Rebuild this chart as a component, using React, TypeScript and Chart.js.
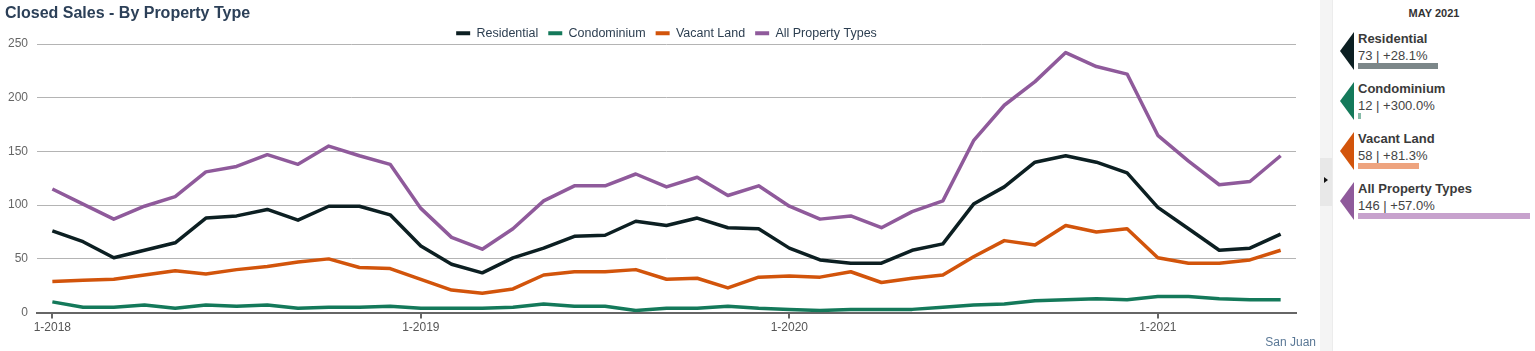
import React, { useEffect, useRef } from "react";
import { Chart, registerables } from "chart.js";

Chart.register(...registerables);

const months: string[] = [
  "1-2018", "2-2018", "3-2018", "4-2018", "5-2018", "6-2018", "7-2018", "8-2018", "9-2018", "10-2018", "11-2018", "12-2018",
  "1-2019", "2-2019", "3-2019", "4-2019", "5-2019", "6-2019", "7-2019", "8-2019", "9-2019", "10-2019", "11-2019", "12-2019",
  "1-2020", "2-2020", "3-2020", "4-2020", "5-2020", "6-2020", "7-2020", "8-2020", "9-2020", "10-2020", "11-2020", "12-2020",
  "1-2021", "2-2021", "3-2021", "4-2021", "5-2021",
];

const residential: number[] = [
  76, 66, 51, 58, 65, 88, 90, 96, 86, 99, 99, 91,
  62, 45, 37, 51, 60, 71, 72, 85, 81, 88, 79, 78,
  60, 49, 46, 46, 58, 64, 101, 117, 140, 146, 140, 130,
  98, 78, 58, 60, 73,
];
const condominium: number[] = [
  10, 5, 5, 7, 4, 7, 6, 7, 4, 5, 5, 6,
  4, 4, 4, 5, 8, 6, 6, 2, 4, 4, 6, 4,
  3, 2, 3, 3, 3, 5, 7, 8, 11, 12, 13, 12,
  15, 15, 13, 12, 12,
];
const vacantLand: number[] = [
  29, 30, 31, 35, 39, 36, 40, 43, 47, 50, 42, 41,
  31, 21, 18, 22, 35, 38, 38, 40, 31, 32, 23, 33,
  34, 33, 38, 28, 32, 35, 52, 67, 63, 81, 75, 78,
  51, 46, 46, 49, 58,
];
const allTypes: number[] = [
  115, 101, 87, 99, 108, 131, 136, 147, 138, 155, 146, 138,
  97, 70, 59, 78, 104, 118, 118, 129, 117, 126, 109, 118,
  99, 87, 90, 79, 94, 104, 160, 193, 215, 242, 229, 222,
  165, 141, 119, 122, 146,
];

const seriesNames: string[] = ["Residential", "Condominium", "Vacant Land", "All Property Types"];
const seriesColors: string[] = ["#0c1f22", "#14795a", "#d2540b", "#8f5a9b"];
const barColors: string[] = ["#7c8789", "#86bba8", "#eea47f", "#c7a2cd"];
const pctChanges: string[] = ["+28.1%", "+300.0%", "+81.3%", "+57.0%"];
const yTicks: number[] = [0, 50, 100, 150, 200, 250];
const panelTitle = "MAY 2021";
const chartTitle = "Closed Sales - By Property Type";
const areaLabel = "San Juan";

const FONT = "'Liberation Sans', Arial, Helvetica, sans-serif";

export default function App() {
  const canvasRef = useRef<HTMLCanvasElement | null>(null);

  useEffect(() => {
    document.body.style.margin = "0";
    const canvas = canvasRef.current;
    if (!canvas) return;
    const allSeries = [residential, condominium, vacantLand, allTypes];
    const legendHeightFix = {
      id: "legendHeightFix",
      beforeInit(chart: any) {
        const legend = chart.legend;
        if (!legend) return;
        const orig = legend.fit;
        legend.fit = function () {
          orig.call(this);
          this.height = 27;
        };
      },
    };
    const chart = new Chart(canvas, {
      type: "line",
      data: {
        labels: months,
        datasets: allSeries.map((data, i) => ({
          label: seriesNames[i],
          data,
          borderColor: seriesColors[i],
          backgroundColor: seriesColors[i],
          borderWidth: 3.5,
          pointRadius: 0,
          pointHoverRadius: 0,
          tension: 0,
          fill: false,
          borderJoinStyle: "round" as const,
        })),
      },
      options: {
        animation: false,
        responsive: false,
        maintainAspectRatio: false,
        font: { family: FONT },
        layout: { padding: { top: 17, left: 8, right: 22, bottom: 14 } },
        plugins: {
          title: { display: false },
          tooltip: { enabled: false },
          legend: {
            display: true,
            position: "top",
            fullSize: false,
            labels: {
              boxWidth: 14,
              boxHeight: 4,
              padding: 10,
              color: "#2c3e50",
              font: { family: FONT, size: 12.5 },
              generateLabels(chart: any) {
                const items = Chart.defaults.plugins.legend.labels.generateLabels(chart);
                return items.map((it: any) => ({ ...it, lineWidth: 0, strokeStyle: "transparent" }));
              },
            },
          },
        },
        scales: {
          x: {
            type: "category",
            offset: true,
            grid: {
              display: true,
              drawOnChartArea: false,
              drawTicks: true,
              tickLength: 6,
              offset: false,
              lineWidth: 2,
              tickColor: (ctx: any) =>
                months[ctx.index] && months[ctx.index].startsWith("1-") ? "#666666" : "rgba(0,0,0,0)",
            },
            border: { display: true, color: "#666666", width: 2 },
            ticks: {
              autoSkip: false,
              maxRotation: 0,
              padding: 2,
              color: "#555555",
              font: { family: FONT, size: 12 },
              callback: (_v: any, i: number) => (months[i].startsWith("1-") ? months[i] : ""),
            },
          },
          y: {
            min: yTicks[0],
            max: yTicks[yTicks.length - 1],
            afterBuildTicks: (scale: any) => {
              scale.ticks = yTicks.map((v) => ({ value: v }));
            },
            afterFit: (scale: any) => {
              scale.width = 29;
            },
            grid: { color: "#b4b4b4", lineWidth: 1, drawTicks: false },
            border: { display: false },
            ticks: {
              padding: 9,
              color: "#666666",
              font: { family: FONT, size: 12 },
            },
          },
        },
      },
      plugins: [legendHeightFix],
    });
    return () => chart.destroy();
  }, []);

  const latest = [residential, condominium, vacantLand, allTypes].map((s) => s[s.length - 1]);

  return (
    <div style={{ position: "relative", width: 1535, height: 351, background: "#ffffff", fontFamily: FONT, overflow: "hidden" }}>
      <div style={{ position: "absolute", left: 0, top: 0, width: 1318, height: 351 }}>
        <canvas ref={canvasRef} width={1318} height={351} style={{ display: "block" }} />
      </div>
      <div style={{ position: "absolute", left: 5, top: 4, fontSize: 16, fontWeight: "bold", color: "#2c4058", lineHeight: "18px" }}>
        {chartTitle}
      </div>
      <div style={{ position: "absolute", right: 1535 - 1316, top: 335, fontSize: 12, color: "#5a7896", lineHeight: "14px" }}>
        {areaLabel}
      </div>
      {/* side strip */}
      <div style={{ position: "absolute", left: 1320, top: 0, width: 12, height: 351, background: "#f4f4f4", borderRight: "1px solid #ececec" }} />
      <div style={{ position: "absolute", left: 1320, top: 158, width: 12, height: 48, background: "#e8e8e8" }} />
      <div
        style={{
          position: "absolute", left: 1324, top: 177, width: 0, height: 0,
          borderTop: "3px solid transparent", borderBottom: "3px solid transparent", borderLeft: "4px solid #111",
        }}
      />
      {/* panel */}
      <div style={{ position: "absolute", left: 1333, top: 6, width: 202, textAlign: "center", fontSize: 11, fontWeight: "bold", color: "#333", lineHeight: "14px" }}>
        {panelTitle}
      </div>
      {seriesNames.map((name, i) => {
        const top = 32 + i * 50;
        const v = latest[i];
        const w = Math.max(3, (v - 9.5) * 1.26);
        return (
          <React.Fragment key={name}>
            <div
              style={{
                position: "absolute", left: 1340, top: top, width: 14, height: 38,
                background: seriesColors[i], clipPath: "polygon(0 50%, 100% 0, 100% 100%)",
              }}
            />
            <div style={{ position: "absolute", left: 1358, top: top - 1, fontSize: 13, fontWeight: "bold", color: "#3a3a3a", lineHeight: "15px", whiteSpace: "nowrap" }}>
              {name}
            </div>
            <div style={{ position: "absolute", left: 1358, top: top + 16, fontSize: 13, color: "#444", lineHeight: "15px", whiteSpace: "nowrap" }}>
              {`${v} | ${pctChanges[i]}`}
            </div>
            <div style={{ position: "absolute", left: 1358, top: top + 31, width: w, height: 6, background: barColors[i] }} />
          </React.Fragment>
        );
      })}
    </div>
  );
}
